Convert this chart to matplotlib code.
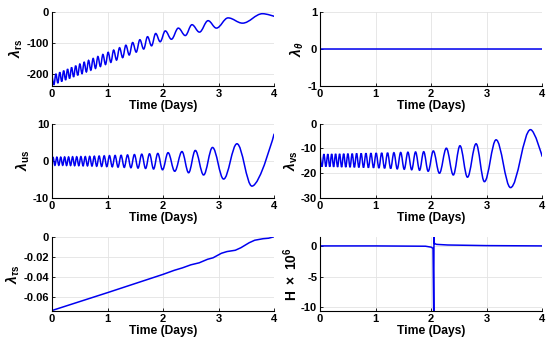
import numpy as np
import matplotlib
matplotlib.use("Agg")
import matplotlib.pyplot as plt
from matplotlib.path import Path
from matplotlib.patches import PathPatch

plt.rcParams['font.family'] = ['Liberation Sans', 'DejaVu Sans']
plt.rcParams['font.weight'] = 'bold'
plt.rcParams['axes.unicode_minus'] = False
plt.rcParams['mathtext.fontset'] = 'custom'
plt.rcParams['mathtext.rm'] = 'Liberation Sans'
plt.rcParams['mathtext.bf'] = 'Liberation Sans:bold'
plt.rcParams['mathtext.it'] = 'Liberation Sans:italic'

# extrema of the oscillating costates (time in days, value)
t_us = [0.0, 0.018, 0.053, 0.088, 0.123, 0.158, 0.193, 0.228, 0.263, 0.299, 0.335,
        0.371, 0.408, 0.445, 0.483, 0.521, 0.560, 0.599, 0.639, 0.679, 0.720,
        0.762, 0.805, 0.849, 0.894, 0.940, 0.987, 1.035, 1.085, 1.136, 1.189,
        1.244, 1.301, 1.360, 1.421, 1.484, 1.549, 1.616, 1.685, 1.756, 1.829,
        1.905, 1.99, 2.09, 2.21, 2.34, 2.46, 2.58, 2.73, 2.89, 3.09, 3.33, 3.60, 4.0]
lam_us = [-0.1, 1.0, -1.2, 1.0, -1.2, 1.0, -1.2, 1.05, -1.25, 1.05, -1.25,
          1.1, -1.3, 1.1, -1.3, 1.15, -1.35, 1.15, -1.35, 1.2, -1.4,
          1.25, -1.45, 1.3, -1.5, 1.35, -1.55, 1.4, -1.6, 1.45, -1.7,
          1.5, -1.75, 1.6, -1.85, 1.7, -1.95, 1.8, -2.05, 1.9, -2.2,
          2.0, -2.4, 2.2, -2.8, 2.5, -3.2, 2.8, -3.8, 3.6, -4.9, 4.6, -6.8, 7.3]

t_vs = [0.0, 0.0355, 0.0705, 0.1055, 0.1405, 0.1755, 0.2105, 0.2455, 0.281, 0.317,
        0.353, 0.3895, 0.4265, 0.464, 0.502, 0.5405, 0.5795, 0.619, 0.659, 0.6995,
        0.741, 0.7835, 0.827, 0.8715, 0.917, 0.9635, 1.011, 1.060, 1.1105, 1.1625,
        1.2165, 1.2725, 1.3305, 1.3905, 1.4525, 1.5165, 1.5825, 1.6505, 1.7205, 1.7925,
        1.867, 1.9475, 2.04, 2.15, 2.275, 2.40, 2.52, 2.655, 2.81, 2.96, 3.17, 3.43, 3.79, 4.0]
lam_vs = [-12.3, -17.3, -12.3, -17.3, -12.3, -17.35, -12.25, -17.4, -12.2, -17.45,
          -12.2, -17.5, -12.15, -17.5, -12.1, -17.55, -12.1, -17.6, -12.0, -17.65,
          -12.0, -17.7, -11.95, -17.75, -11.9, -17.8, -11.85, -17.9, -11.8, -18.0,
          -11.75, -18.1, -11.7, -18.25, -11.6, -18.4, -11.5, -18.6, -11.4, -18.8,
          -11.3, -19.2, -11.0, -20.0, -9.9, -20.7, -8.9, -21.6, -8.1, -23.4, -6.5, -25.8, -2.4, -13.3]
lam_rs = [-206, -235.4, -200.9, -230.4, -195.8, -225.5, -190.6, -220.5, -185.5, -215.6,
          -180.1, -210.6, -174.6, -205.4, -169.0, -200.1, -163.2, -194.6, -157.3, -189.0,
          -151.1, -183.2, -144.8, -177.1, -138.1, -170.6, -131.2, -163.7, -124.0, -156.3,
          -116.4, -148.4, -108.2, -139.9, -99.6, -130.6, -90.5, -120.7, -80.7, -110.2,
          -70.4, -97, -62, -89, -53, -77, -42, -66, -29, -53, -20, -37, -6.5, -15]

t_taus = [0, 1.0, 2.0, 2.2, 2.35, 2.5, 2.65, 2.8, 2.9, 3.05, 3.15, 3.3, 3.4, 3.55, 3.65, 3.8, 3.9, 4.0]
lam_taus = [-0.0735, -0.0557, -0.0375, -0.0335, -0.031, -0.028, -0.026, -0.0225, -0.021,
            -0.0165, -0.0148, -0.0135, -0.011, -0.006, -0.0035, -0.002, -0.0015, 0.0]

t_H = [0, 1.0, 1.9, 2.0, 2.035, 2.048, 2.052, 2.056, 2.07, 2.1, 2.3, 3.0, 4.0]
H_e6 = [0, 0, -0.05, -0.2, -0.4, -12, 1.7, 0.5, 0.35, 0.25, 0.15, 0.05, 0.0]

t_theta = [0, 4]
lam_theta = [0, 0]

days = [0, 1, 2, 3, 4]
blue = '#0000f0'


def wave(ax, t, y):
    # smooth curve through the extrema (horizontal tangent at each one)
    verts = [(t[0], y[0])]
    codes = [Path.MOVETO]
    n = len(t)
    for i in range(n - 1):
        k = 0.363 * (t[i + 1] - t[i])
        c1 = (t[i], y[i]) if i == 0 else (t[i] + k, y[i])
        c2 = (t[i + 1], y[i + 1]) if i == n - 2 else (t[i + 1] - k, y[i + 1])
        verts += [c1, c2, (t[i + 1], y[i + 1])]
        codes += [Path.CURVE4] * 3
    ax.add_patch(PathPatch(Path(verts, codes), facecolor='none', edgecolor=blue, lw=1.1))


def style(ax, ylim, yticks, ylabel):
    ax.set_xlim(0, 4)
    ax.set_ylim(*ylim)
    ax.set_xticks(days)
    ax.set_yticks(yticks)
    ax.set_yticklabels([('%g' % v) for v in yticks])
    ax.grid(True, color='#e3e3e3', lw=0.6)
    ax.set_axisbelow(True)
    for s in ['top', 'right']:
        ax.spines[s].set_visible(False)
    for s in ['left', 'bottom']:
        ax.spines[s].set_linewidth(0.8)
    ax.tick_params(direction='in', length=2.5, width=0.6, labelsize=8, pad=2)
    ax.set_xlabel('Time (Days)', fontsize=8.7, fontweight='bold', labelpad=1)
    ax.set_ylabel(ylabel, fontsize=10, labelpad=1)


fig = plt.figure(figsize=(5.5, 3.44), dpi=100)
lefts = [0.0945, 0.5818]
bottoms = [0.75, 0.4244, 0.0959]
w = 0.404
h = 0.216

ax = fig.add_axes([lefts[0], bottoms[0], w, h])
wave(ax, t_vs, lam_rs)
style(ax, (-240, 0), [-200, -100, 0], r'$\lambda_{\mathbf{rs}}$')

ax = fig.add_axes([lefts[1], bottoms[0], w, h])
ax.plot(t_theta, lam_theta, color=blue, lw=1.1)
style(ax, (-1, 1), [-1, 0, 1], r'$\lambda_{\theta}$')

ax = fig.add_axes([lefts[0], bottoms[1], w, h])
wave(ax, t_us, lam_us)
style(ax, (-10, 10), [-10, 0, 10], r'$\lambda_{\mathbf{us}}$')

ax = fig.add_axes([lefts[1], bottoms[1], w, h])
wave(ax, t_vs, lam_vs)
style(ax, (-30, 0), [-30, -20, -10, 0], r'$\lambda_{\mathbf{vs}}$')

ax = fig.add_axes([lefts[0], bottoms[2], w, h])
ax.plot(t_taus, lam_taus, color=blue, lw=1.1)
style(ax, (-0.074, 0), [-0.06, -0.04, -0.02, 0], r'$\lambda_{\tau\mathbf{s}}$')

ax = fig.add_axes([lefts[1], bottoms[2], w, h])
ax.plot(t_H, H_e6, color=blue, lw=1.1)
style(ax, (-10.6, 1.5), [-10, -5, 0], r'$\mathbf{H}\ \times\ \mathbf{10^{6}}$')

fig.savefig('out.png', dpi=100)
